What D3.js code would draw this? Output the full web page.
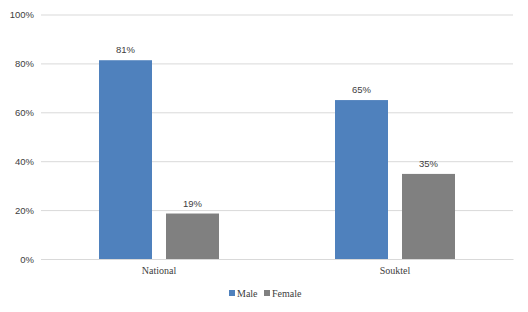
<!DOCTYPE html>
<html><head><meta charset="utf-8">
<script src="https://cdn.jsdelivr.net/npm/d3@7"></script>
<style>body{margin:0;background:#fff}svg{display:block}</style>
</head><body>
<script>
const categories = ["National", "Souktel"];
const seriesNames = ["Male", "Female"];
const maleValues = [0.813, 0.65];
const femaleValues = [0.186, 0.348];
const valueLabels = [["81%", "19%"], ["65%", "35%"]];
const tickValues = [0, 0.2, 0.4, 0.6, 0.8, 1.0];
const colors = ["#4f81bd", "#808080"];

const W = 528, H = 312;
const margin = {left: 41, right: 15, top: 14.5, bottom: 53};
const svg = d3.select("body").append("svg").attr("width", W).attr("height", H);

const x0 = d3.scaleBand().domain(categories).range([margin.left, W - margin.right]).padding(0);
const groupW = 120;
const x1 = d3.scaleBand().domain(seriesNames).range([0, groupW]).paddingInner(14/67).paddingOuter(0);
const y = d3.scaleLinear().domain([0, 1]).range([H - margin.bottom, margin.top]);

const yAxis = d3.axisLeft(y).tickValues(tickValues).tickFormat(d3.format(".0%")).tickSize(-(W - margin.right - margin.left)).tickPadding(7);
const gy = svg.append("g").attr("transform", `translate(${margin.left},0)`).call(yAxis);
gy.select(".domain").remove();
gy.selectAll(".tick line").attr("stroke", "#d9d9d9").attr("stroke-width", 1);
gy.selectAll(".tick text").attr("font-family", "Liberation Sans, Arial, sans-serif").attr("font-size", 9.5).attr("fill", "#404040");

const data = categories.map((c, i) => ({cat: c, vals: [maleValues[i], femaleValues[i]], labels: valueLabels[i]}));

const g = svg.append("g");
data.forEach(d => {
  const off = x0(d.cat) + (x0.bandwidth() - groupW) / 2;
  seriesNames.forEach((s, j) => {
    const bx = off + x1(s);
    g.append("rect").attr("x", bx).attr("y", y(d.vals[j])).attr("width", x1.bandwidth())
      .attr("height", y(0) - y(d.vals[j])).attr("fill", colors[j]);
    g.append("text").attr("x", bx + x1.bandwidth() / 2).attr("y", y(d.vals[j]) - 7)
      .attr("text-anchor", "middle").attr("font-family", "Liberation Sans, Arial, sans-serif")
      .attr("font-size", 9.5).attr("fill", "#404040").text(d.labels[j]);
  });
});

const xAxis = d3.axisBottom(x0).tickSize(0).tickPadding(8);
const gx = svg.append("g").attr("transform", `translate(0,${y(0)})`).call(xAxis);
gx.select(".domain").attr("stroke", "#d9d9d9");
gx.selectAll(".tick text").attr("font-family", "Liberation Serif, Times New Roman, serif").attr("font-size", 10).attr("fill", "#404040");

const legend = svg.append("g").attr("transform", "translate(229,293)");
const legendX = [0, 35];
seriesNames.forEach((s, j) => {
  const lg = legend.append("g").attr("transform", `translate(${legendX[j]},0)`);
  lg.append("rect").attr("x", 0).attr("y", -3).attr("width", 6).attr("height", 6).attr("fill", colors[j]);
  lg.append("text").attr("x", 8).attr("y", 3.5).attr("font-family", "Liberation Serif, Times New Roman, serif")
    .attr("font-size", 10).attr("fill", "#404040").text(s);
});
</script>
</body></html>
